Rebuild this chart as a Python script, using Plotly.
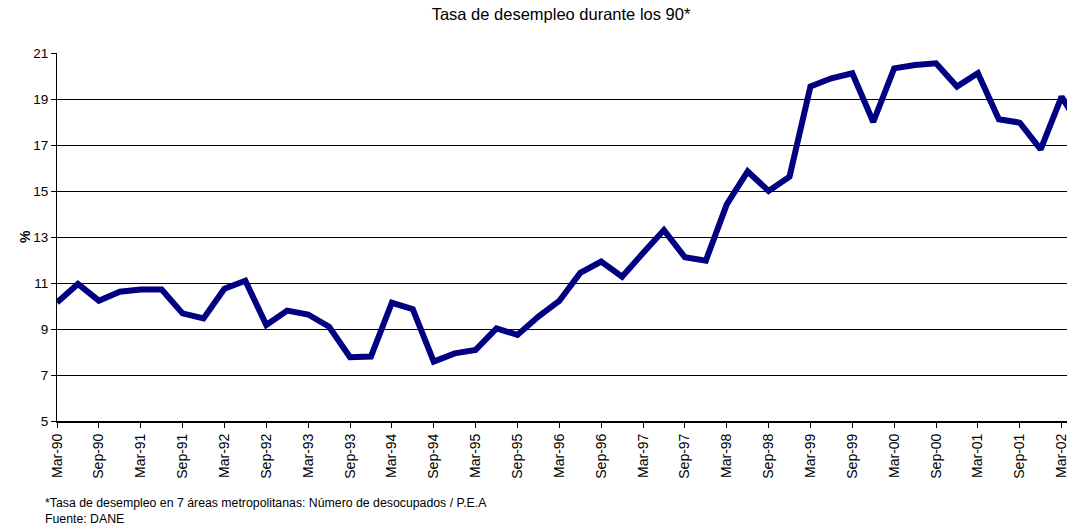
import plotly.graph_objects as go

# trimestres Mar-90 .. Jun-02
trimestres = ['Mar-90', 'Jun-90', 'Sep-90', 'Dec-90', 'Mar-91', 'Jun-91', 'Sep-91', 'Dec-91',
              'Mar-92', 'Jun-92', 'Sep-92', 'Dec-92', 'Mar-93', 'Jun-93', 'Sep-93', 'Dec-93',
              'Mar-94', 'Jun-94', 'Sep-94', 'Dec-94', 'Mar-95', 'Jun-95', 'Sep-95', 'Dec-95',
              'Mar-96', 'Jun-96', 'Sep-96', 'Dec-96', 'Mar-97', 'Jun-97', 'Sep-97', 'Dec-97',
              'Mar-98', 'Jun-98', 'Sep-98', 'Dec-98', 'Mar-99', 'Jun-99', 'Sep-99', 'Dec-99',
              'Mar-00', 'Jun-00', 'Sep-00', 'Dec-00', 'Mar-01', 'Jun-01', 'Sep-01', 'Dec-01',
              'Mar-02', 'Jun-02']

desempleo = [10.15, 10.96, 10.23, 10.62, 10.72, 10.72, 9.68, 9.46,
             10.75, 11.1, 9.17, 9.8, 9.63, 9.1, 7.77, 7.8,
             10.14, 9.86, 7.58, 7.94, 8.09, 9.03, 8.74, 9.54,
             10.22, 11.44, 11.93, 11.27, 12.3, 13.3, 12.12, 11.97,
             14.42, 15.85, 15.0, 15.62, 19.54, 19.9, 20.12, 18.0,
             20.33, 20.48, 20.55, 19.54, 20.12, 18.12, 17.97, 16.81,
             19.1, 17.6]

etiquetas = trimestres[::2]
posiciones = list(range(0, len(trimestres), 2))
x = list(range(len(trimestres)))

fuente = 'Liberation Sans, Arial, sans-serif'

# la pagina tiene 8px de margen en el body
off = 8

fig = go.Figure()
fig.add_trace(go.Scatter(x=x, y=desempleo, mode='lines',
                         line=dict(color='#000080', width=6),
                         showlegend=False, hoverinfo='y'))

fig.update_layout(
    width=1075, height=531,
    margin=dict(l=57 - off, r=off, t=53 - off, b=110 + off),
    plot_bgcolor='white', paper_bgcolor='white',
    font=dict(family=fuente, color='black', size=13),
    title=dict(text='Tasa de desempleo durante los 90*', x=(561 - off) / 1075, xanchor='center',
               y=1 - (14 - off) / 531, yanchor='middle', font=dict(size=16.5, color='black')),
)

fig.update_xaxes(range=[0, 48.64], tickmode='array', tickvals=posiciones, ticktext=etiquetas,
                 tickangle=-90, tickfont=dict(size=14), showgrid=False, zeroline=False,
                 showline=True, linecolor='black', linewidth=2, ticks='outside',
                 ticklen=5, tickcolor='black')
fig.update_yaxes(range=[5, 21], dtick=2, tick0=5, tickfont=dict(size=13.5),
                 showgrid=True, gridcolor='black', gridwidth=1, zeroline=False,
                 showline=True, linecolor='black', linewidth=1, ticks='outside',
                 ticklen=5, tickcolor='black')

fig.add_annotation(text='<b>%</b>', textangle=-90,
                   x=(15 - 57) / 1018, y=(421 - 237) / 368, xref='paper', yref='paper',
                   showarrow=False, font=dict(size=14, color='black'))

fig.add_annotation(text='*Tasa de desempleo en 7 áreas metropolitanas: Número de desocupados / P.E.A'
                        '<br>Fuente: DANE',
                   x=(43 - 57) / 1018, xanchor='left', y=-(511 - 421) / 368, yanchor='middle',
                   xref='paper', yref='paper', showarrow=False, align='left',
                   font=dict(size=12.3, color='black'))

fig.write_html("out.html")
